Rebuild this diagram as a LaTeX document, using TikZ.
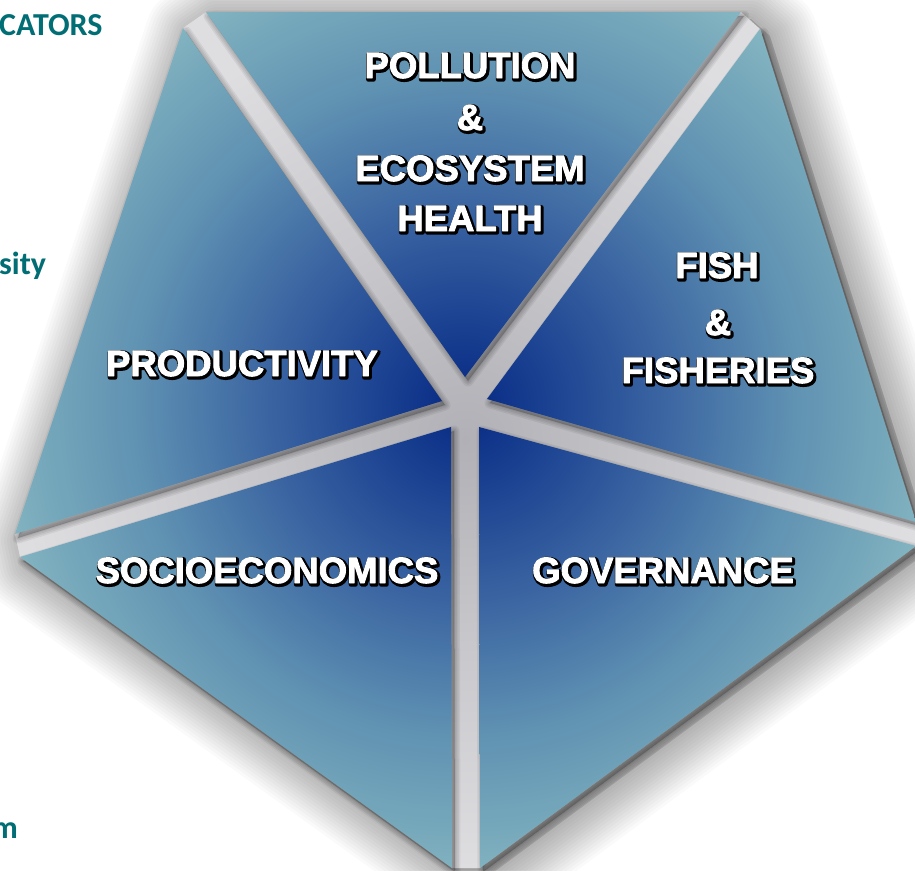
\documentclass[tikz,border=0pt]{standalone}
\usepackage{fontspec}
\usetikzlibrary{calc}
\newfontfamily\lblfont{Liberation Sans}
\newfontfamily\sidefont{Carlito}
\definecolor{pnavy}{RGB}{8,40,125}
\definecolor{pdeep}{RGB}{15,52,138}
\definecolor{pmid}{RGB}{35,75,150}
\definecolor{pmid2}{RGB}{62,105,163}
\definecolor{plight}{RGB}{95,145,178}
\definecolor{plight2}{RGB}{122,172,189}
\definecolor{pteal}{RGB}{132,182,194}
\definecolor{sg1}{RGB}{176,176,182}
\definecolor{sg2}{RGB}{200,200,204}
\definecolor{sg3}{RGB}{222,222,225}
\definecolor{sideteal}{RGB}{0,110,116}
\pgfdeclareradialshading{pentshade}{\pgfpoint{0bp}{0bp}}{color(0bp)=(pnavy); color(2bp)=(pdeep); color(6bp)=(pmid); color(11bp)=(pmid2); color(17bp)=(plight); color(23bp)=(plight2); color(25bp)=(pteal); color(50bp)=(pteal)}
\pgfdeclareradialshading{stripeshade}{\pgfpoint{0bp}{0bp}}{color(0bp)=(sg1); color(12bp)=(sg2); color(25bp)=(sg3); color(50bp)=(sg3)}
\newcommand\hullpath{(206,12) -- (741,12) -- (760,29) -- (916,522) -- (916,546) -- (480,868) -- (452,868) -- (20,557) -- (15,534) -- (183,28) -- cycle}
\newcommand\shadowtext[1]{\special{pdf:literal direct 2 Tr 4.4 w 1 J 1 j 0 G}#1\special{pdf:literal direct 0 Tr}}
\newcommand\whitetext[1]{\special{pdf:literal direct 2 Tr 0.9 w 1 j 1 G}#1\special{pdf:literal direct 0 Tr}}
\newcommand\mylabel[4]{%
  \node[lblshadow] (#1s) at (#2+1.3,#3+1.5) {\shadowtext{#4}};%
  \node[lbltext] (#1) at (#2,#3) {\whitetext{#4}};}
\begin{document}
\begin{tikzpicture}[x=1pt,y=-1pt,
  lbltext/.style={text=white, font=\lblfont\bfseries\fontsize{36.5}{40}\selectfont, inner sep=0pt, anchor=base},
  lblshadow/.style={lbltext, text=black},
  sidetext/.style={text=sideteal, font=\sidefont\bfseries\fontsize{32}{34}\selectfont, inner sep=0pt},
  tri/.style={shading=pentshade}]
\useasboundingbox (0,0) rectangle (915,870);
\clip (0,0) rectangle (915,870);
\fill[white] (0,0) rectangle (915,870);
% side texts
\node[sidetext, anchor=base west] (sideA) at (-1,35) {CATORS};
\node[sidetext, anchor=base west] (sideB) at (-1,274) {sity};
\node[sidetext, anchor=base east] (sideC) at (18,838) {m};
% centre and vertices
\coordinate (O) at (464,405);
\coordinate (T1) at (206,12);  \coordinate (T2) at (741,12);  \coordinate (T3) at (465,377);
\coordinate (F1) at (760,29);  \coordinate (F2) at (916,522); \coordinate (F3) at (487,399);
\coordinate (G1) at (479,427); \coordinate (G2) at (916,546); \coordinate (G3) at (480,868);
\coordinate (S1) at (451,427); \coordinate (S2) at (452,868); \coordinate (S3) at (20,557);
\coordinate (P1) at (442,401); \coordinate (P2) at (15,534);  \coordinate (P3) at (183,28);
% soft outer shadow
\fill[black, opacity=0.12, shift={(10,7)}] \hullpath;
\foreach \w in {6,12,...,96}{
  \draw[black, draw opacity=0.02, line width=\w pt, line join=round, shift={(10,7)}] \hullpath;
}
% grey stripes backdrop
\shade[shading=stripeshade] \hullpath;
% triangle shadows on the stripes
\foreach \a/\b/\c in {T1/T2/T3, F1/F2/F3, G1/G2/G3, S1/S2/S3, P1/P2/P3}{
  \foreach \w in {2,5,8,11}{
    \draw[black, draw opacity=0.06, fill=black, fill opacity=0.06, line width=\w pt, line join=round]
      ($(\a)+(3,4)$) -- ($(\b)+(3,4)$) -- ($(\c)+(3,4)$) -- cycle;
  }
}
% triangles
\foreach \a/\b/\c in {T1/T2/T3, F1/F2/F3, G1/G2/G3, S1/S2/S3, P1/P2/P3}{
  \begin{scope}
    \clip (\a) -- (\b) -- (\c) -- cycle;
    \shade[tri] (O) circle (480pt);
  \end{scope}
}
% labels
\mylabel{pol1}{470}{78}{POLLUTION}
\mylabel{pol2}{470}{130}{\&}
\mylabel{pol3}{470}{181}{ECOSYSTEM}
\mylabel{pol4}{470}{231}{HEALTH}
\mylabel{fis1}{717}{278}{FISH}
\mylabel{fis2}{718}{335}{\&}
\mylabel{fis3}{718}{383}{FISHERIES}
\mylabel{prod}{242}{376}{PRODUCTIVITY}
\mylabel{soc}{267}{583}{SOCIOECONOMICS}
\mylabel{gov}{663}{583}{GOVERNANCE}
\end{tikzpicture}
\end{document}
